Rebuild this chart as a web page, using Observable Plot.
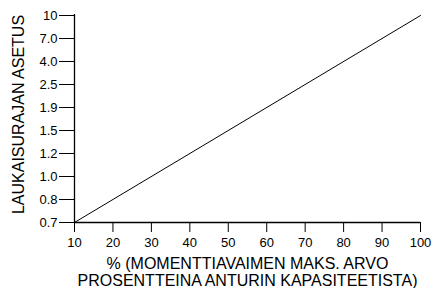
<!DOCTYPE html>
<html><head><meta charset="utf-8">
<script src="https://cdn.jsdelivr.net/npm/d3@7"></script>
<script src="https://cdn.jsdelivr.net/npm/@observablehq/plot@0.6"></script>
<style>body{margin:0;background:#fff;} svg{font-family:Arial,"Liberation Sans",sans-serif;}</style>
</head><body><div id="chart"></div>
<script>
const yCategories = ["10","7.0","4.0","2.5","1.9","1.5","1.2","1.0","0.8","0.7"];
const xTicks = [10,20,30,40,50,60,70,80,90,100];
const lineX = [10, 100];
const lineY = ["0.7", "10"];
const xTitle = "% (MOMENTTIAVAIMEN MAKS. ARVO\nPROSENTTEINA ANTURIN KAPASITEETISTA)";
const yTitle = "LAUKAISURAJAN ASETUS";

const lineData = lineX.map((x, i) => ({x, y: lineY[i]}));

const chart = Plot.plot({
  width: 432, height: 288,
  marginTop: 14, marginBottom: 66, marginLeft: 74, marginRight: 12,
  style: {fontFamily: "Arial, 'Liberation Sans', sans-serif", fontSize: "13px", color: "#000", background: "#fff"},
  x: {domain: [10, 100], ticks: xTicks},
  y: {type: "point", domain: yCategories, padding: 0},
  marks: [
    Plot.axisY({tickSize: 15, tickPadding: 2, label: null, fontSize: 13}),
    Plot.axisX({ticks: xTicks, tickSize: 10, tickPadding: 5, label: null, fontSize: 13}),
    Plot.ruleX([10], {stroke: "#000", strokeWidth: 1.3}),
    Plot.ruleY(["0.7"], {stroke: "#000", strokeWidth: 1.3}),
    Plot.line(lineData, {x: "x", y: "y", stroke: "#000", strokeWidth: 1}),
    Plot.text([xTitle], {text: d => d, frameAnchor: "bottom", lineAnchor: "top", dy: 34, fontSize: 16, lineHeight: 1.06, fill: "#000"}),
    Plot.text([yTitle], {text: d => d, frameAnchor: "left", textAnchor: "middle", lineWidth: 100, rotate: -90, dx: -56, dy: -4, fontSize: 16, fill: "#000"})
  ]
});
document.getElementById("chart").append(chart);
</script></body></html>
